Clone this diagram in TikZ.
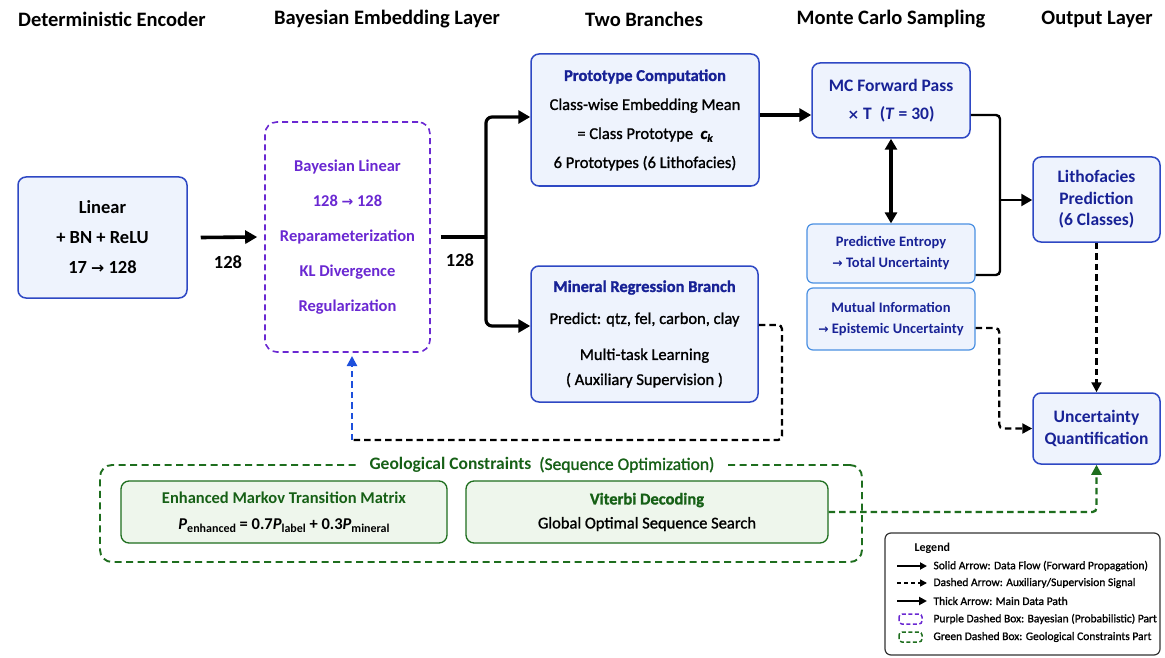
\documentclass[tikz,border=0pt]{standalone}
\usepackage{graphicx}
\usepackage{fontspec}
\setmainfont{Carlito}
\newfontfamily\symfont{DejaVu Sans}
\newfontfamily\medium{Carlito}[FakeBold=1.2]
\usetikzlibrary{arrows.meta,calc}
\newcommand{\myra}{{\symfont\scalebox{0.85}{→}}}
\definecolor{bblue}{RGB}{46,72,196}
\definecolor{bfill}{RGB}{238,243,253}
\definecolor{dblue}{RGB}{24,34,150}
\definecolor{lblue}{RGB}{74,144,226}
\definecolor{purp}{RGB}{106,40,210}
\definecolor{gr}{RGB}{30,110,30}
\definecolor{grfill}{RGB}{238,246,236}
\definecolor{grtext}{RGB}{22,96,22}
\definecolor{dashblue}{RGB}{30,80,220}
\tikzset{
  box/.style={draw=bblue, fill=bfill, line width=1.5pt, rounded corners=8pt, align=center, inner sep=0pt},
  lbox/.style={draw=lblue, fill=bfill, line width=1.2pt, rounded corners=6pt, align=center, inner sep=0pt, text=dblue, font=\bfseries\fontsize{14.5}{21}\selectfont},
  gbox/.style={draw=gr, fill=grfill, line width=1.3pt, rounded corners=8pt, align=center, inner sep=0pt},
  title/.style={font=\bfseries\fontsize{20.5}{24}\selectfont, text=black},
  mainarrow/.style={line width=3.6pt, -{Triangle[length=12pt,width=13pt]}},
  mainline/.style={line width=3.6pt},
  conn/.style={line width=2.4pt, rounded corners=4pt},
  connarrow/.style={line width=2.4pt, rounded corners=4pt, -{Triangle[length=11pt,width=12pt]}},
  dconn/.style={line width=2.3pt, dash pattern=on 6.5pt off 4pt, rounded corners=4pt},
  dconnarrow/.style={dconn, -{Triangle[length=10pt,width=10pt]}},
  lbl/.style={font=\bfseries\fontsize{18.5}{20}\selectfont},
  ltext/.style={anchor=west, font=\medium\fontsize{11.5}{13}\selectfont}
}
\begin{document}
\begin{tikzpicture}[x=1pt,y=-1pt]
\useasboundingbox[fill=white] (0,0) rectangle (1165,658);

% column titles
\node[title] (t1) at (112,19) {Deterministic Encoder};
\node[title] (t2) at (387,19) {Bayesian Embedding Layer};
\node[title] (t3) at (644,19) {Two Branches};
\node[title] (t4) at (891,19) {Monte Carlo Sampling};
\node[title] (t5) at (1097,19) {Output Layer};

% encoder
\node[box, minimum width=169pt, minimum height=121pt, font=\bfseries\fontsize{18.5}{30}\selectfont] (enc) at (102.5,237.5)
  {Linear\\+ BN + ReLU\\17 \myra\ 128};

% bayesian
\node[draw=purp, line width=1.6pt, dash pattern=on 6pt off 4pt, rounded corners=12pt, minimum width=165pt, minimum height=230pt,
  align=center, text=purp, font=\bfseries\fontsize{16.5}{35}\selectfont] (bayes) at (347.5,237)
  {Bayesian Linear\\128 \myra\ 128\\Reparameterization\\KL Divergence\\Regularization};

\draw[mainarrow] ([xshift=13pt]enc.east) -- ([xshift=-7pt]bayes.west);
\node[lbl] (l1) at (228,262) {128};

% branch
\coordinate (j) at (486,237);
\draw[mainline] ([xshift=10pt]bayes.east) -- (j);
\node[lbl] (l2) at (460,260) {128};

% prototype
\node[box, minimum width=228pt, minimum height=132pt, font=\medium\fontsize{16.5}{29}\selectfont] (proto) at (645,120)
  {\textcolor{dblue}{\bfseries Prototype Computation}\\Class-wise Embedding Mean\\= Class Prototype\ \ {\bfseries\itshape c\raisebox{-0.35ex}{\fontsize{11}{11}\selectfont k}}\\6 Prototypes (6 Lithofacies)};

% mineral
\node[box, minimum width=227pt, minimum height=136pt, font=\medium\fontsize{16.5}{25}\selectfont] (mineral) at (644.5,334)
  {\textcolor{dblue}{\bfseries Mineral Regression Branch}\\[7pt]Predict: qtz, fel, carbon, clay\\[11pt]Multi-task Learning\\( Auxiliary Supervision )};

\draw[line width=3.2pt, rounded corners=6pt, -{Triangle[length=12pt,width=13pt]}] (j) |- ([yshift=3pt]proto.west);
\draw[line width=3.2pt, rounded corners=6pt, -{Triangle[length=12pt,width=13pt]}] (j) |- ([yshift=8pt]mineral.west);

% MC
\node[box, minimum width=158pt, minimum height=75pt, text=dblue, font=\bfseries\fontsize{17.5}{28}\selectfont] (mc) at (891,100.5)
  {MC Forward Pass\\{\symfont\scalebox{0.8}{×}} T\ \ (\textit{T} = 30)};
\draw[line width=3.2pt, -{Triangle[length=12pt,width=13pt]}] (proto.east |- 0,115) -- (mc.west |- 0,115);

\node[lbox, minimum width=168pt, minimum height=59pt] (pe) at (891,253.5)
  {Predictive Entropy\\\myra\ Total Uncertainty};
\node[lbox, minimum width=168pt, minimum height=62pt] (mi) at (891,319)
  {Mutual Information\\\myra\ Epistemic Uncertainty};

\draw[line width=3.2pt, {Triangle[length=11pt,width=12pt]}-{Triangle[length=11pt,width=12pt]}] (mc.south) -- (pe.north);

% output
\node[box, minimum width=127pt, minimum height=85pt, text=dblue, font=\bfseries\fontsize{17.5}{21.5}\selectfont] (litho) at (1096.5,199.5)
  {Lithofacies\\Prediction\\(6 Classes)};
\node[box, minimum width=127pt, minimum height=71pt, text=dblue, font=\bfseries\fontsize{17.5}{22}\selectfont] (uq) at (1096.5,428.5)
  {Uncertainty\\Quantification};

\coordinate (k) at (1000,200);
\draw[conn] (mc.east |- 0,115) -| (k);
\draw[conn] (pe.east |- 0,275) -| (k);
\draw[connarrow, rounded corners=0pt] (k) -- (litho.west |- k);

\draw[dconnarrow] (litho.south) -- (uq.north);
\draw[dconnarrow] (mi.east |- 0,328) -| ([xshift=-33pt]uq.west) -- (uq.west);

% feedback from mineral to bayesian
\coordinate (c1) at (782,440);
\coordinate (c2) at (352,440);
\draw[dconn] (mineral.east |- 0,325) -| (c1) -- (c2);
\draw[dconn, draw=dashblue, -{Triangle[length=10pt,width=10pt]}] (c2) -- (c2 |- 0,356);

% geological constraints
\node[draw=gr, line width=1.9pt, dash pattern=on 7pt off 4.5pt, rounded corners=12pt, minimum width=762pt, minimum height=97pt] (geo) at (481,513.5) {};
\node[fill=white, inner xsep=10pt, inner ysep=2pt, text=grtext, font=\fontsize{17.5}{18}\selectfont] (gtitle) at (542,465)
  {\textbf{Geological Constraints}\ \ {\medium (Sequence Optimization)}};
\node[gbox, minimum width=326pt, minimum height=62pt, font=\fontsize{16.5}{26}\selectfont] (markov) at (284,512)
  {\textcolor{grtext}{\bfseries Enhanced Markov Transition Matrix}\\
   \bfseries\itshape P\raisebox{-0.4ex}{\upshape\fontsize{12}{12}\selectfont enhanced}\upshape\ = 0.7\itshape P\raisebox{-0.4ex}{\upshape\fontsize{12}{12}\selectfont label}\upshape\ + 0.3\itshape P\raisebox{-0.4ex}{\upshape\fontsize{12}{12}\selectfont mineral}};
\node[gbox, minimum width=362pt, minimum height=62pt, font=\medium\fontsize{16.5}{24}\selectfont] (vit) at (647,512)
  {\textcolor{grtext}{\bfseries Viterbi Decoding}\\Global Optimal Sequence Search};

\draw[dconn, draw=gr, -{Triangle[length=10pt,width=10pt]}] (vit.east) -| (uq.south);

% legend
\node[draw=black!80, line width=1.2pt, rounded corners=6pt, minimum width=275pt, minimum height=122pt] (leg) at (1022.5,594) {};
\node[anchor=west, font=\bfseries\fontsize{12}{14}\selectfont] (legt) at (911,548) {Legend};
\coordinate (a1s) at (897,566); \coordinate (a1e) at (927,566);
\coordinate (a2s) at (897,583); \coordinate (a2e) at (927,583);
\coordinate (a3s) at (897,601); \coordinate (a3e) at (927,601);
\draw[line width=1.9pt, -{Triangle[length=7pt,width=7pt]}] (a1s) -- (a1e);
\draw[line width=1.5pt, dash pattern=on 4pt off 3pt, -{Triangle[length=7pt,width=7pt]}] (a2s) -- (a2e);
\draw[line width=2.5pt, -{Triangle[length=8pt,width=8pt]}] (a3s) -- (a3e);
\draw[draw=purp, line width=1.5pt, dash pattern=on 4pt off 2.5pt, rounded corners=3pt] (899,614) rectangle (922,624);
\draw[draw=gr, line width=1.5pt, dash pattern=on 4pt off 2.5pt, rounded corners=3pt] (899,632) rectangle (922,642);
\node[ltext] (lt1) at (930,566) {Solid Arrow: Data Flow (Forward Propagation)};
\node[ltext] (lt2) at (930,583) {Dashed Arrow: Auxiliary/Supervision Signal};
\node[ltext] (lt3) at (930,601) {Thick Arrow: Main Data Path};
\node[ltext] (lt4) at (930,619) {Purple Dashed Box: Bayesian (Probabilistic) Part};
\node[ltext] (lt5) at (930,637) {Green Dashed Box: Geological Constraints Part};
\end{tikzpicture}
\end{document}
